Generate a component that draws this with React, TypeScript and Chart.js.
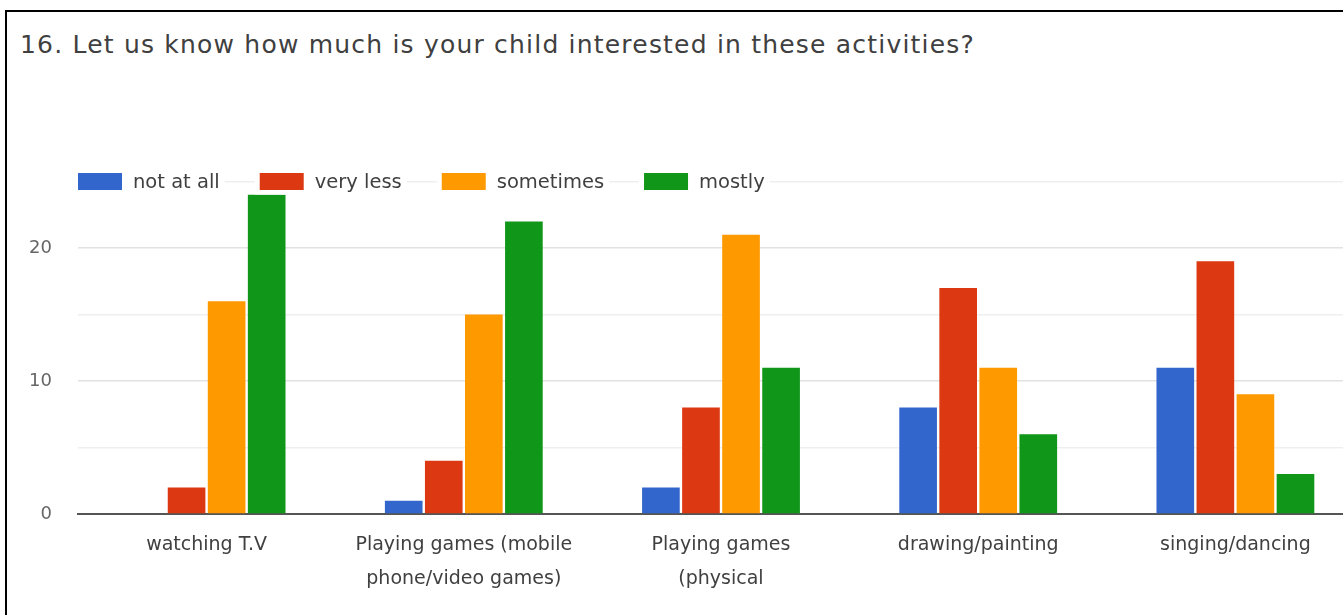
import React, { useEffect, useRef } from 'react';
import { Chart, registerables } from 'chart.js';

Chart.register(...registerables);

const chartTitle = '16. Let us know how much is your child interested in these activities?';
const categories: string[][] = [
  ['watching T.V'],
  ['Playing games (mobile', 'phone/video games)'],
  ['Playing games', '(physical'],
  ['drawing/painting'],
  ['singing/dancing'],
];
const seriesNames = ['not at all', 'very less', 'sometimes', 'mostly'];
const notAtAll = [0, 1, 2, 8, 11];
const veryLess = [2, 4, 8, 17, 19];
const sometimes = [16, 15, 21, 11, 9];
const mostly = [24, 22, 11, 6, 3];
const seriesColors = ['#3366cc', '#dc3912', '#ff9900', '#109618'];
const yMax = 25;
const yStep = 5;
const yLabelStep = 10;

const FONT = '"DejaVu Sans", sans-serif';

const inlineLegend = {
  id: 'inlineLegend',
  afterDatasetsDraw(chart: any) {
    const ctx = chart.ctx;
    const left = chart.chartArea.left;
    const y = chart.scales.y.getPixelForValue(yMax);
    ctx.save();
    ctx.font = '19.5px ' + FONT;
    ctx.textBaseline = 'middle';
    ctx.textAlign = 'left';
    let x = left;
    chart.data.datasets.forEach((ds: any) => {
      const label = ds.label as string;
      const tw = ctx.measureText(label).width;
      ctx.fillStyle = '#ffffff';
      ctx.fillRect(x - 5, y - 13, 44 + 11 + tw + 10, 26);
      ctx.fillStyle = ds.backgroundColor;
      ctx.fillRect(x, y - 8.5, 44, 17);
      ctx.fillStyle = '#404040';
      ctx.fillText(label, x + 55, y + 1);
      x += 55 + tw + 40;
    });
    ctx.restore();
  },
};

export default function App() {
  const canvasRef = useRef<HTMLCanvasElement | null>(null);

  useEffect(() => {
    if (!canvasRef.current) return;
    const seriesValues = [notAtAll, veryLess, sometimes, mostly];
    const chart = new Chart(canvasRef.current, {
      type: 'bar',
      data: {
        labels: categories,
        datasets: seriesNames.map((name, i) => ({
          label: name,
          data: seriesValues[i],
          backgroundColor: seriesColors[i],
          borderWidth: 0,
          categoryPercentage: 0.623,
          barPercentage: 0.94,
        })),
      },
      options: {
        animation: false,
        responsive: true,
        maintainAspectRatio: false,
        layout: { padding: { left: 13, right: 3, top: 169.5, bottom: 0 } },
        plugins: {
          legend: { display: false },
          tooltip: { enabled: false },
          title: { display: false },
        },
        scales: {
          x: {
            grid: { display: false, drawTicks: false },
            border: { display: true, color: '#555555', width: 2 },
            ticks: {
              color: '#404040',
              font: { family: FONT, size: 19, lineHeight: 1.74 },
              padding: 15,
              autoSkip: false,
              maxRotation: 0,
              minRotation: 0,
            },
            afterFit: (scale: any) => {
              scale.height = 101;
            },
          },
          y: {
            min: 0,
            max: yMax,
            grid: {
              drawTicks: false,
              color: (c: any) => {
                const v = c.tick ? c.tick.value : 0;
                if (v === 0) return 'rgba(0,0,0,0)';
                return v % yLabelStep === 0 ? '#e2e2e2' : '#efefef';
              },
              lineWidth: 1.5,
            },
            border: { display: false },
            ticks: {
              stepSize: yStep,
              color: '#666666',
              font: { family: FONT, size: 18 },
              padding: 26,
              callback: (v: any) => (Number(v) % yLabelStep === 0 ? String(v) : ''),
            },
            afterFit: (scale: any) => {
              scale.width = 58;
            },
          },
        },
      },
      plugins: [inlineLegend],
    });
    return () => chart.destroy();
  }, []);

  return (
    <div
      style={{
        position: 'fixed',
        left: 0,
        top: 0,
        width: 1343,
        height: 615,
        overflow: 'hidden',
        background: '#ffffff',
      }}
    >
      <div
        style={{
          position: 'absolute',
          left: 5,
          top: 10,
          width: 1400,
          height: 700,
          border: '2px solid #000000',
          background: '#ffffff',
        }}
      >
        <div
          style={{
            position: 'absolute',
            left: 13,
            top: 20,
            fontFamily: FONT,
            fontSize: 25,
            lineHeight: '25px',
            letterSpacing: '1.2px',
            color: '#404040',
            whiteSpace: 'nowrap',
          }}
        >
          {chartTitle}
        </div>
        <div style={{ position: 'absolute', left: 0, top: 0, width: 1360, height: 603 }}>
          <canvas ref={canvasRef} />
        </div>
      </div>
    </div>
  );
}
